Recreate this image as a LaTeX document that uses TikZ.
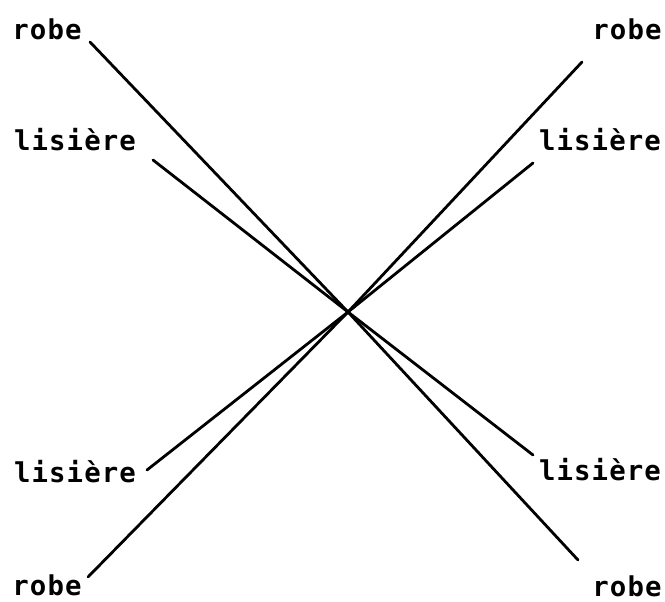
\documentclass[tikz,border=0pt]{standalone}
\usepackage{fontspec}
\newfontfamily\labelfont[LetterSpace=4]{DejaVu Sans Mono}
\begin{document}
\begin{tikzpicture}[x=0.75pt,y=-0.75pt,
  lab/.style={inner sep=0pt, font=\labelfont\bfseries\fontsize{20.5}{24}\selectfont},
  ray/.style={line width=2.1pt, line cap=round}]
\useasboundingbox (0,0) rectangle (665,602);
\coordinate (c) at (348,312);
\node[lab] (tlr) at (47,29) {robe};
\node[lab] (tll) at (75,140) {lisière};
\node[lab] (trr) at (627,29) {robe};
\node[lab] (trl) at (600,140) {lisière};
\node[lab] (bll) at (75,472) {lisière};
\node[lab] (blr) at (47,585) {robe};
\node[lab] (brl) at (600,470) {lisière};
\node[lab] (brr) at (627,586) {robe};
\coordinate (e1) at (90,42);
\coordinate (e2) at (153,160);
\coordinate (e3) at (582,62);
\coordinate (e4) at (533,163);
\coordinate (e5) at (147,470);
\coordinate (e6) at (88,577);
\coordinate (e7) at (533,455);
\coordinate (e8) at (578,560);
\draw[ray] (e1) -- (c) -- (e8);
\draw[ray] (e2) -- (c) -- (e7);
\draw[ray] (e3) -- (c) -- (e6);
\draw[ray] (e4) -- (c) -- (e5);
\end{tikzpicture}
\end{document}
